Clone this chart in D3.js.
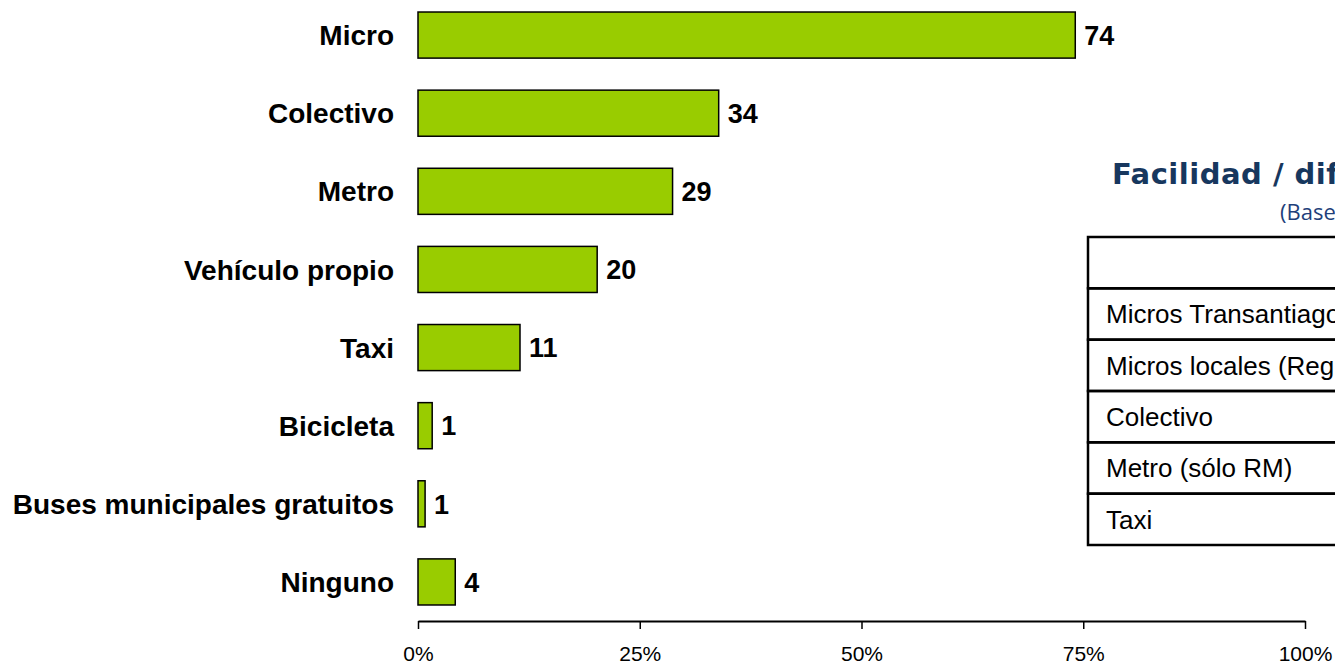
<!DOCTYPE html>
<html>
<head>
<meta charset="utf-8">
<script src="https://cdn.jsdelivr.net/npm/d3@7"></script>
<style>
  html, body { margin: 0; padding: 0; background: #fff; overflow: hidden; }
  svg { display: block; }
</style>
</head>
<body>
<div id="wrapper"></div>
<script>
// medio de transporte usado (%)
const categories = ["Micro", "Colectivo", "Metro", "Vehículo propio", "Taxi", "Bicicleta", "Buses municipales gratuitos", "Ninguno"];
const shares = [74.1, 33.9, 28.7, 20.2, 11.5, 1.6, 0.8, 4.2];
const shareLabels = ["74", "34", "29", "20", "11", "1", "1", "4"];
const tickValues = [0, 25, 50, 75, 100];

// tabla lateral (cortada por el borde)
const tableTitle = "Facilidad / dificultad de acceso";
const tableSubtitle = "(Base: total entrevistados)";
const tableRows = ["", "Micros Transantiago", "Micros locales (Regiones)", "Colectivo", "Metro (sólo RM)", "Taxi"];

function build() {
  const dimension = {
    width: 1335,
    height: 664,
  };

  const data = categories.map((c, i) => ({ name: c, value: shares[i], label: shareLabels[i] }));

  const wrapper = d3.select("#wrapper")
    .append("svg")
    .attr("width", dimension.width)
    .attr("height", dimension.height);

  const x = d3.scaleLinear()
    .domain([0, 100])
    .range([418, 1305]);

  const y = d3.scaleBand()
    .domain(categories)
    .range([-4, 621])
    .paddingInner(0.41)
    .paddingOuter(0.205);

  const bars = wrapper.append("g");

  bars.selectAll("rect")
    .data(data)
    .enter()
    .append("rect")
    .attr("x", x(0))
    .attr("y", d => y(d.name))
    .attr("width", d => x(d.value) - x(0))
    .attr("height", y.bandwidth())
    .attr("fill", "#99cc00")
    .attr("stroke", "#000")
    .attr("stroke-width", 1.5);

  bars.selectAll("text.value")
    .data(data)
    .enter()
    .append("text")
    .attr("class", "value")
    .attr("x", d => x(d.value) + 9)
    .attr("y", d => y(d.name) + y.bandwidth() / 2)
    .attr("dy", "0.36em")
    .style("font-family", "'Liberation Sans', Arial, sans-serif")
    .style("font-weight", "bold")
    .style("font-size", "27px")
    .text(d => d.label);

  wrapper.append("g")
    .selectAll("text")
    .data(data)
    .enter()
    .append("text")
    .attr("x", 394)
    .attr("y", d => y(d.name) + y.bandwidth() / 2)
    .attr("dy", "0.36em")
    .style("text-anchor", "end")
    .style("font-family", "'Liberation Sans', Arial, sans-serif")
    .style("font-weight", "bold")
    .style("font-size", "28px")
    .text(d => d.name);

  const axis = wrapper.append("g")
    .attr("transform", "translate(0,621)")
    .call(d3.axisBottom(x)
      .tickValues(tickValues)
      .tickFormat(d => d + "%")
      .tickSizeInner(8)
      .tickSizeOuter(0)
      .tickPadding(17));

  axis.select(".domain").attr("stroke", "#000").attr("stroke-width", 2);
  axis.selectAll(".tick line").attr("stroke", "#000").attr("stroke-width", 1.5);
  axis.selectAll(".tick text")
    .attr("fill", "#000")
    .style("font-family", "'Liberation Sans', Arial, sans-serif")
    .style("font-size", "21px");

  // tabla a la derecha
  const table = wrapper.append("g");

  table.append("text")
    .attr("x", 1112)
    .attr("y", 184)
    .attr("fill", "#17375e")
    .style("font-family", "'DejaVu Sans', Verdana, sans-serif")
    .style("font-weight", "bold")
    .style("font-size", "29px")
    .style("letter-spacing", "0.5px")
    .text(tableTitle);

  table.append("text")
    .attr("x", 1280)
    .attr("y", 220)
    .attr("fill", "#1f3f7a")
    .style("font-family", "'Open Sans', sans-serif")
    .style("font-size", "22px")
    .text(tableSubtitle);

  const rowY = d3.scaleBand()
    .domain(d3.range(tableRows.length))
    .range([237, 545]);

  table.selectAll("rect")
    .data(tableRows)
    .enter()
    .append("rect")
    .attr("x", 1088)
    .attr("y", (d, i) => rowY(i))
    .attr("width", 400)
    .attr("height", rowY.bandwidth())
    .attr("fill", "none")
    .attr("stroke", "#000")
    .attr("stroke-width", 2.5);

  table.selectAll("text.row")
    .data(tableRows)
    .enter()
    .append("text")
    .attr("class", "row")
    .attr("x", 1106)
    .attr("y", (d, i) => rowY(i) + rowY.bandwidth() / 2)
    .attr("dy", "0.36em")
    .style("font-family", "'Liberation Sans', Arial, sans-serif")
    .style("font-size", "26px")
    .text(d => d);
}

build();
</script>
</body>
</html>
